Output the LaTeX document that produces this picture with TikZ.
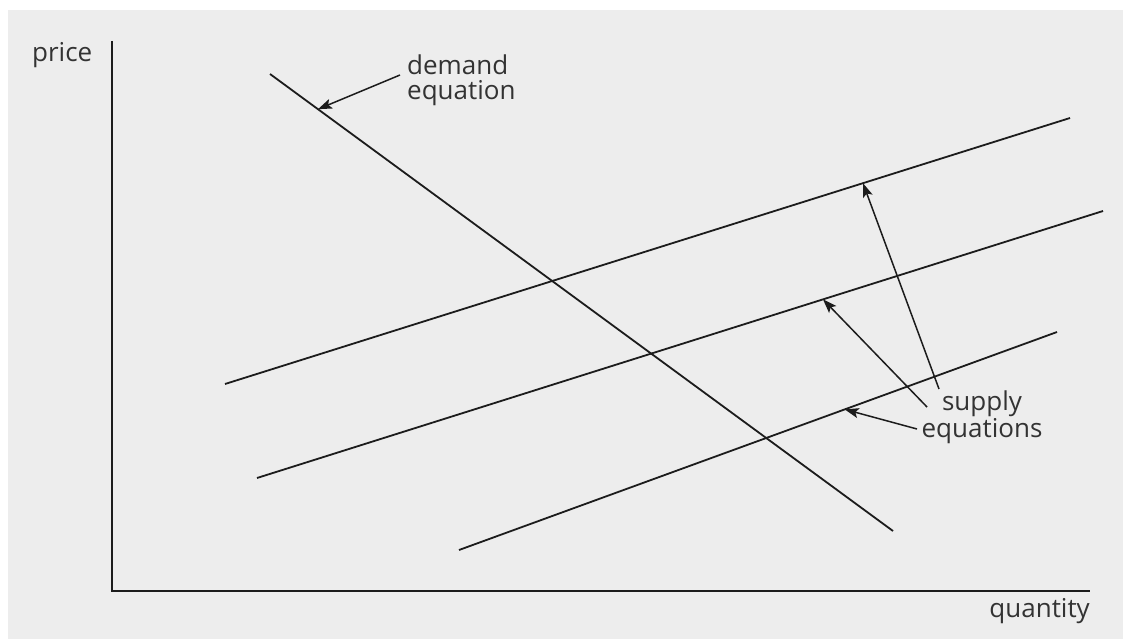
\documentclass[tikz,border=0pt]{standalone}
\usepackage{fontspec}
\setmainfont{Open Sans}
\usetikzlibrary{arrows.meta,calc}
\definecolor{panelgray}{RGB}{237,237,237}
\definecolor{inkgray}{RGB}{28,28,28}
\tikzset{
  eqline/.style   = {inkgray,line width=1.8pt},
  axisline/.style = {inkgray,line width=2.3pt},
  labarr/.style   = {-{Stealth[length=14pt,width=10pt,inset=3pt]},inkgray,line width=1.5pt},
  lab/.style      = {font=\fontsize{26}{25}\selectfont,text=inkgray!90,inner sep=0pt}
}

\begin{document}
\begin{tikzpicture}[x=1pt,y=-1pt]
  \useasboundingbox (0,0) rectangle (1123,639);
  \fill[panelgray] (8,10) rectangle (1123,639);
  \coordinate (ytop) at (112,41);
  \coordinate (orig) at (112,591);
  \coordinate (xend) at (1090,591);
  \draw[axisline] (ytop) -- (orig) -- (xend);
  \node[lab,anchor=base west] (plab) at (32,62) {price};
  \node[lab,anchor=base east] (qlab) at (1090,617) {quantity};
  \coordinate (d0) at (270,74);   \coordinate (d1) at (893,531);
  \coordinate (s1a) at (225,384); \coordinate (s1b) at (1070,118);
  \coordinate (s2a) at (257,478); \coordinate (s2b) at (1103,211);
  \coordinate (s3a) at (459,550); \coordinate (s3b) at (1057,332);
  \draw[eqline] (d0) -- (d1);
  \draw[eqline] (s1a) -- (s1b);
  \draw[eqline] (s2a) -- (s2b);
  \draw[eqline] (s3a) -- (s3b);
  \node[lab,anchor=base west,align=left] (dlab) at (407,100) {demand\\equation};
  \node[lab,anchor=base,align=center] (slab) at (982,437) {supply\\equations};
  \coordinate (dtail) at (400,75);
  \coordinate (st1) at (939,389);
  \coordinate (st2) at (927,407);
  \coordinate (st3) at (917,429);
  \draw[labarr] (dtail) -- ($(d0)!0.077!(d1)$);
  \draw[labarr] (st1) -- ($(s1a)!0.755!(s1b)$);
  \draw[labarr] (st2) -- ($(s2a)!0.669!(s2b)$);
  \draw[labarr] (st3) -- ($(s3a)!0.645!(s3b)$);
\end{tikzpicture}
\end{document}
